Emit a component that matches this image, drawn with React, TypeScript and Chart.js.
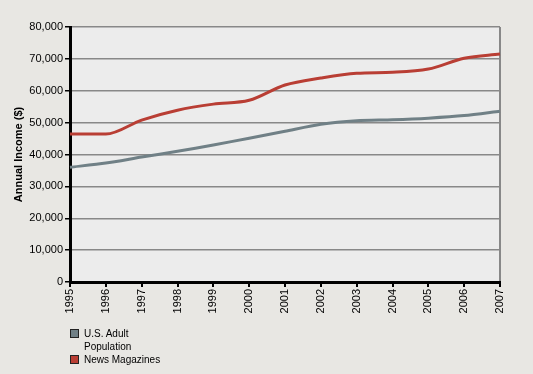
import React, { useEffect, useRef } from "react";
import { Chart, registerables } from "chart.js";

Chart.register(...registerables);

const years = ["1995","1996","1997","1998","1999","2000","2001","2002","2003","2004","2005","2006","2007"];
const usAdult = [36000, 37300, 39200, 41000, 43000, 45100, 47300, 49500, 50600, 50900, 51400, 52200, 53600];
const newsMagazines = [46400, 46400, 50800, 53900, 55800, 57000, 61800, 64000, 65500, 65800, 66800, 70200, 71500];
const yTicks = [0, 10000, 20000, 30000, 40000, 50000, 60000, 70000, 80000];

const GRAY = "rgb(112,128,134)";
const RED = "rgb(185,62,52)";
const FONT = "'Liberation Sans', Arial, sans-serif";

export default function App() {
  const ref = useRef<HTMLCanvasElement | null>(null);
  useEffect(() => {
    document.body.style.margin = "0";
    const bgPlugin = {
      id: "bg",
      beforeDraw(chart: any) {
        const { ctx, chartArea } = chart;
        ctx.save();
        ctx.fillStyle = "#ececec";
        ctx.fillRect(chartArea.left, chartArea.top, chartArea.right - chartArea.left, chartArea.bottom - chartArea.top);
        ctx.restore();
      },
    };
    const chart = new Chart(ref.current!, {
      type: "line",
      data: {
        labels: years,
        datasets: [
          { label: "U.S. Adult Population", data: usAdult, borderColor: GRAY, backgroundColor: GRAY, borderWidth: 3, pointRadius: 0, tension: 0.25 },
          { label: "News Magazines", data: newsMagazines, borderColor: RED, backgroundColor: RED, borderWidth: 3, pointRadius: 0, cubicInterpolationMode: "monotone" },
        ],
      },
      options: {
        animation: false,
        responsive: false,
        layout: { padding: { top: 27, right: 33, left: 0, bottom: 0 } },
        plugins: { legend: { display: false }, tooltip: { enabled: false } },
        scales: {
          x: {
            offset: false,
            grid: {
              color: (c: any) => (c.index === years.length - 1 ? "#888" : "transparent"),
              tickColor: "#000",
              tickLength: 5,
              lineWidth: 2,
            },
            border: { color: "#000", width: 3 },
            ticks: { color: "#000", font: { family: FONT, size: 11 }, minRotation: 90, maxRotation: 90, autoSkip: false, padding: 2 },
            afterFit: (s: any) => { s.height = 92; },
          },
          y: {
            min: 0,
            max: 80000,
            afterBuildTicks: (s: any) => { s.ticks = yTicks.map((v) => ({ value: v })); },
            grid: { color: "#888", tickColor: "#000", tickLength: 5, lineWidth: 1.5 },
            border: { color: "#000", width: 3 },
            ticks: {
              color: "#000",
              font: { family: FONT, size: 11 },
              padding: 2,
              callback: (v: any) => Number(v).toLocaleString("en-US"),
            },
            title: { display: true, text: "Annual Income ($)", color: "#000", font: { family: FONT, size: 11, weight: "bold" }, padding: { top: 12, bottom: 0 } },
            afterFit: (s: any) => { s.width = 70; },
          },
        },
      },
      plugins: [bgPlugin],
    } as any);
    return () => chart.destroy();
  }, []);

  const legendItem = (color: string, lines: string[], top: number) => (
    <div style={{ position: "absolute", left: 70, top, display: "flex", alignItems: "flex-start" }}>
      <div style={{ width: 7, height: 7, background: color, border: "1px solid #222", marginTop: 2, marginRight: 5 }} />
      <div style={{ fontFamily: FONT, fontSize: 10, lineHeight: "13px", color: "#000" }}>
        {lines.map((l, i) => (<div key={i}>{l}</div>))}
      </div>
    </div>
  );

  return (
    <div style={{ position: "relative", width: 533, height: 374, background: "#e8e7e3", overflow: "hidden" }}>
      <canvas ref={ref} width={533} height={374} style={{ position: "absolute", left: 0, top: 0 }} />
      {legendItem(GRAY, ["U.S. Adult", "Population"], 327)}
      {legendItem(RED, ["News Magazines"], 353)}
    </div>
  );
}
